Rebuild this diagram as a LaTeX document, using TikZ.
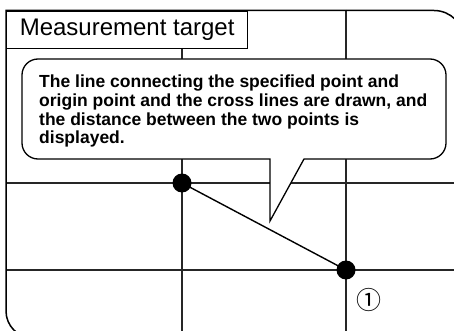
\documentclass[tikz,border=0pt]{standalone}
\usepackage{fontspec}
\setmainfont{Liberation Sans}
\newfontfamily\symfont{Noto Sans CJK JP}
\begin{document}
\begin{tikzpicture}[x=1pt,y=-1pt,
  gridline/.style={line width=1.3pt,draw=black!85},
  dotnode/.style={circle,fill=black,inner sep=0pt,minimum size=19pt},
  linkline/.style={line width=1.4pt}]
\useasboundingbox (0,0) rectangle (454,331);
\clip (0,0) rectangle (454,331);
% grid lines
\draw[gridline] (6,183) -- (460,183);
\draw[gridline] (6,270) -- (460,270);
\draw[gridline] (182,48) -- (182,340);
\draw[gridline] (346,10) -- (346,340);
% outer frame
\draw[line width=1.5pt] (470,338) [rounded corners=27] -- (6,338) [sharp corners] -- (6,10.5) [rounded corners=30] -- (464,10.5) -- (464,345);
% title box
\node[draw,line width=1.3pt,minimum width=241pt,minimum height=37.5pt,inner sep=0pt,anchor=north west,
  font=\fontsize{24}{26}\selectfont] (title) at (6,10.5) {\raisebox{-1.5pt}{Measurement target}};
% callout
\draw[line width=1.3pt,fill=white] (270,221) -- (304,159) [rounded corners=16] -- (446,159) -- (446,59) -- (22,59) -- (22,159) [sharp corners] -- (270,159) -- cycle;
\node[anchor=north west,align=left,inner sep=0pt,font=\bfseries\fontsize{17.5}{18.7}\selectfont] (msg) at (39,75)
  {The line connecting the specified point and\\origin point and the cross lines are drawn, and\\the distance between the two points is\\displayed.};
% points
\coordinate (c1) at (182,183);
\coordinate (c2) at (346,270);
\draw[linkline] (c1) -- (c2);
\node[dotnode] (p1) at (c1) {};
\node[dotnode] (p2) at (c2) {};
\node[font=\symfont\fontsize{25}{25}\selectfont] (lab) at (369,300) {①};
\end{tikzpicture}
\end{document}
